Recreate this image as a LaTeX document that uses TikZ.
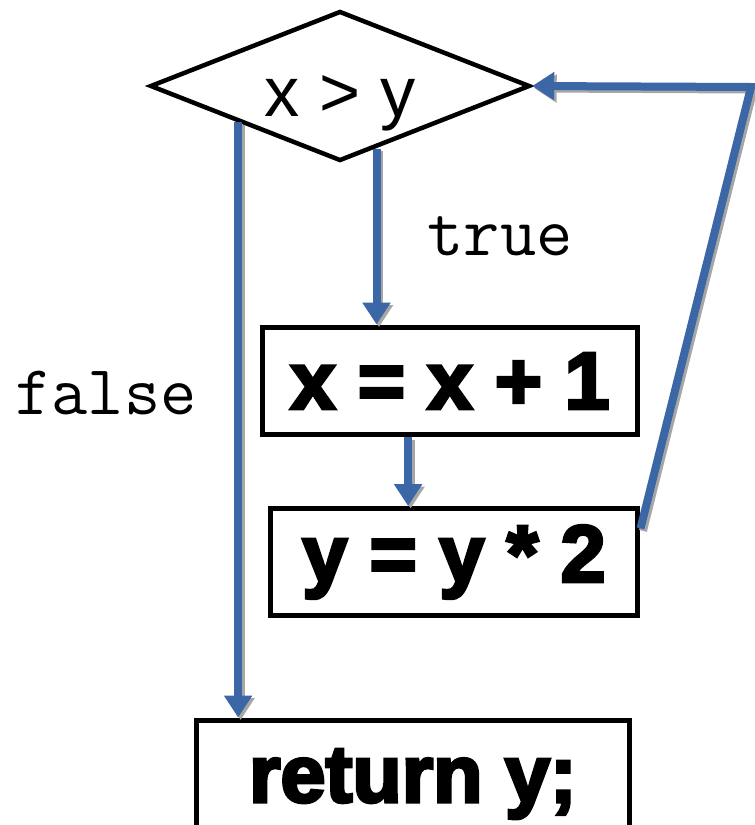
\documentclass[tikz,border=0pt]{standalone}
\usepackage{fontspec}
\setmainfont{Liberation Sans}
\newfontfamily\heavyfont[FakeBold=4]{Liberation Sans Bold}
\usetikzlibrary{arrows.meta,positioning,calc,shapes.geometric}
\definecolor{flowblue}{RGB}{59,103,166}

\begin{document}
\begin{tikzpicture}[x=0.02cm, y=-0.02cm,
    box/.style={draw, line width=0.1cm, inner sep=0pt,
        font=\heavyfont\fontsize{46}{50}\selectfont},
    flow/.style={draw=flowblue, line width=0.16cm,
        -{Triangle[width=0.54cm,length=0.44cm]},
        preaction={draw=black!35, line width=0.16cm,
            -{Triangle[width=0.54cm,length=0.44cm]},
            transform canvas={shift={(0.05cm,-0.05cm)}}}},
    lbl/.style={font=\ttfamily\fontsize{40}{44}\selectfont}]
    \useasboundingbox (0,0) rectangle (754,825);

    % Condition
    \node[diamond, draw, line width=0.09cm, aspect=2.53, minimum width=7.6cm,
        minimum height=3cm, inner sep=0pt, text height=1.25cm, text depth=0.02cm,
        font=\fontsize{40}{44}\selectfont] (cond) at (340,86) {x > y};

    % Loop body and exit
    \node[box, minimum width=7.52cm, minimum height=2.16cm] (incx) at (450,381) {x = x + 1};
    \node[box, minimum width=7.36cm, minimum height=2.14cm] (dbly) at (454,562) {y = y * 2};
    \node[box, minimum width=8.66cm, minimum height=3cm, text height=1.16cm,
        text depth=0.88cm] (ret) at (413,795) {return y;};

    % Branch labels
    \node[lbl] (truelbl) at (500,236) {true};
    \node[lbl] (falselbl) at (106,393) {false};

    % Arrows
    \coordinate (fstart) at ($(cond.west)!0.47!(cond.south)$);
    \coordinate (tstart) at ($(cond.south)!0.19!(cond.east)$);
    \coordinate (istart) at ($(incx.south west)!0.39!(incx.south east)$);
    \coordinate (lstart) at ($(dbly.north east)!0.2!(dbly.south east)$);
    \coordinate (loopturn) at (751,87);

    \draw[flow] (fstart) -- (fstart |- ret.north);
    \draw[flow] (tstart) -- (tstart |- incx.north);
    \draw[flow] (istart) -- (istart |- dbly.north);
    \draw[flow] (lstart) -- (loopturn) -- (cond.east);
\end{tikzpicture}
\end{document}
